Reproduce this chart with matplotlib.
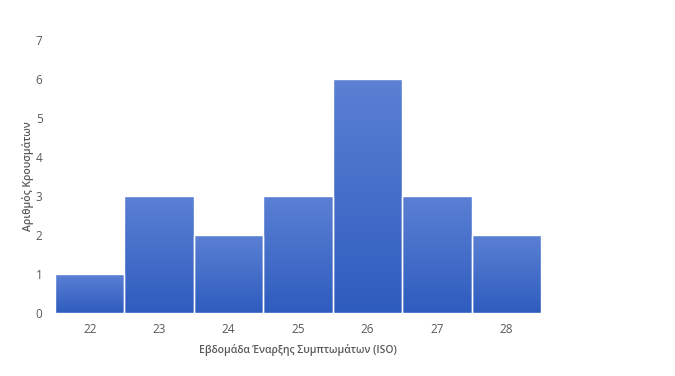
import numpy as np
import matplotlib
matplotlib.use("Agg")
import matplotlib.pyplot as plt
from matplotlib.colors import LinearSegmentedColormap

weeks = [22, 23, 24, 25, 26, 27, 28]
cases = [1, 3, 2, 3, 6, 3, 2]
x_label = "Εβδομάδα Έναρξης Συμπτωμάτων (ISO)"
y_label = "Αριθμός Κρουσμάτων"

plt.rcParams['font.family'] = ['Open Sans', 'DejaVu Sans']

fig = plt.figure(figsize=(6.75, 3.76), dpi=100)
ax = fig.add_axes([0.0815, 0.1676, 0.72, 0.726])

grad = LinearSegmentedColormap.from_list("g", ["#2e5cbe", "#5b80d4"])
bars = ax.bar(weeks, cases, width=1.0, color="none", edgecolor="white",
              linewidth=1.0, zorder=3, clip_on=False)
for b in bars:
    x0, y0 = b.get_x(), b.get_y()
    w, h = b.get_width(), b.get_height()
    img = np.linspace(0, 1, 256).reshape(-1, 1)
    im = ax.imshow(img, cmap=grad, origin="lower", aspect="auto",
                   extent=(x0, x0 + w, y0, y0 + h), zorder=2)
    im.set_clip_path(b)

ax.set_xlim(weeks[0] - 0.5, weeks[-1] + 0.5)
ax.set_ylim(0, 7)
ax.set_xticks(weeks)
ax.set_yticks(range(0, 8))
for s in ax.spines.values():
    s.set_visible(False)
ax.tick_params(length=0, labelsize=8.5, colors="#595959")
ax.tick_params(axis="y", pad=9)
ax.tick_params(axis="x", pad=7)
ax.set_xlabel(x_label, fontsize=7.5, fontweight="semibold", color="#595959", labelpad=6)
ax.set_ylabel(y_label, fontsize=7.5, fontweight="semibold", color="#595959", labelpad=1)

fig.savefig("out.png", dpi=100)
